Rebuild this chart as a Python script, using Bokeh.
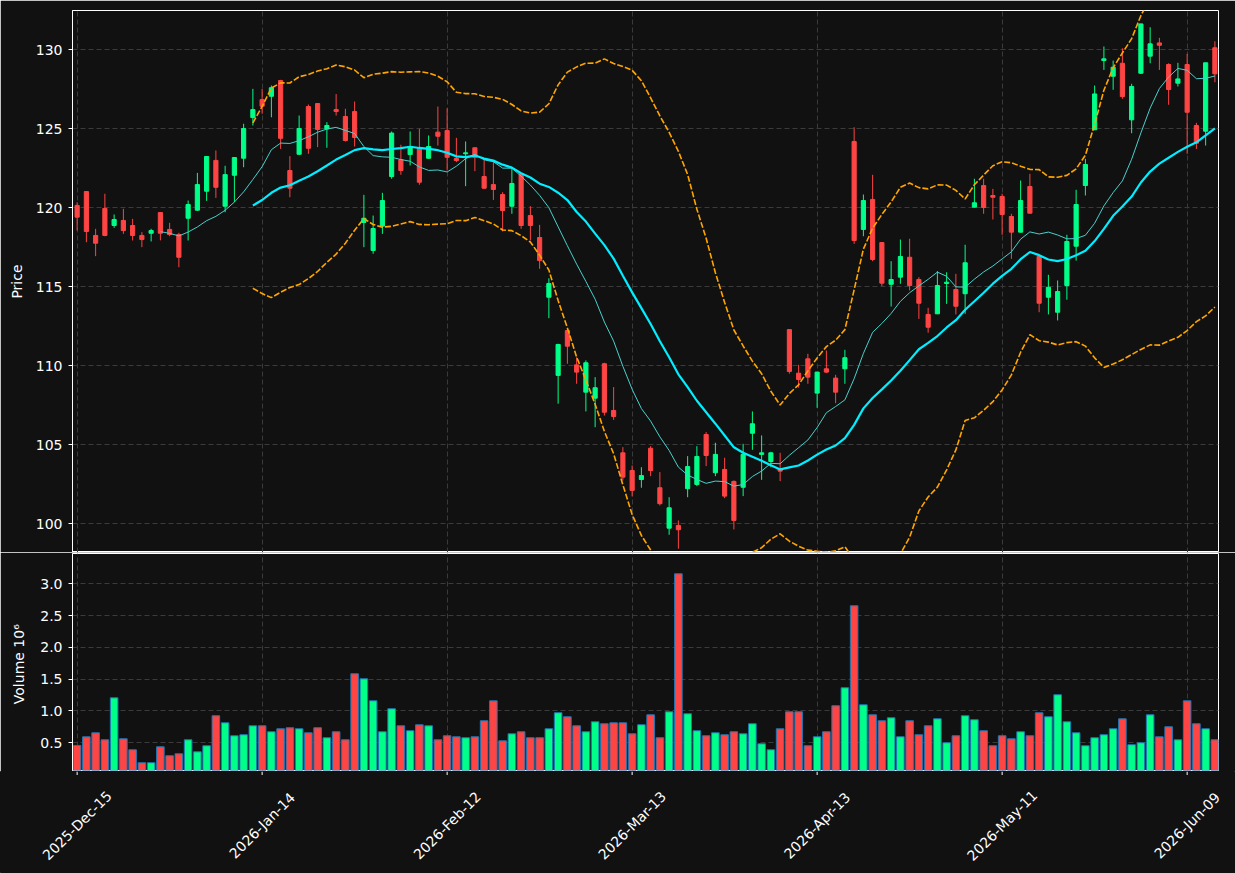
import pandas as pd
from math import pi
from bokeh.plotting import figure
from bokeh.layouts import column
from bokeh.models import (ColumnDataSource, FixedTicker, NumeralTickFormatter, Range1d)
from bokeh.core.properties import value
from bokeh.embed import file_html
from bokeh.resources import INLINE

# ---------------- data ----------------
tick_pos = [0, 20, 40, 60, 80, 100, 120]
tick_labels = ["2025-Dec-15", "2026-Jan-14", "2026-Feb-12", "2026-Mar-13",
               "2026-Apr-13", "2026-May-11", "2026-Jun-09"]
price_ticks = [100, 105, 110, 115, 120, 125, 130]
volume_ticks = [0.5, 1.0, 1.5, 2.0, 2.5, 3.0]

opens = [120.15, 121.03, 118.25, 119.96, 118.88, 119.20, 118.88, 118.25, 118.39, 119.70,
         118.63, 118.31, 119.34, 119.85, 121.05, 123.00, 120.10, 122.06, 123.14, 125.71,
         126.85, 127.06, 128.06, 122.36, 123.39, 126.41, 126.60, 125.00, 126.22, 125.78,
         126.09, 119.07, 117.30, 118.84, 121.98, 123.04, 123.37, 123.77, 123.14, 124.79,
         124.89, 123.12, 123.42, 123.80, 121.98, 121.47, 120.84, 120.10, 122.15, 119.51,
         118.12, 114.34, 109.39, 112.23, 110.06, 108.33, 107.95, 110.13, 107.17, 104.49,
         103.37, 102.80, 104.78, 102.28, 99.72, 99.89, 102.22, 102.49, 105.65, 103.23,
         103.44, 102.68, 102.31, 105.73, 104.39, 103.94, 103.48, 112.29, 109.53, 110.44,
         108.27, 109.81, 109.22, 109.81, 124.20, 118.63, 120.53, 117.80, 115.16, 115.61,
         116.87, 115.46, 113.25, 113.29, 115.21, 114.83, 114.56, 120.04, 121.41, 120.78,
         120.72, 119.45, 118.46, 121.35, 116.92, 114.34, 113.39, 115.08, 117.57, 121.41,
         124.94, 129.32, 128.33, 129.15, 125.57, 128.52, 129.60, 130.44, 129.07, 127.89,
         129.07, 125.21, 124.85, 130.13]
highs = [120.35, 121.05, 118.67, 120.89, 119.58, 119.94, 119.30, 118.46, 118.67, 119.72,
         119.05, 118.42, 120.46, 122.21, 123.27, 123.63, 122.66, 123.20, 125.32, 127.53,
         127.53, 127.74, 128.10, 123.27, 125.84, 126.54, 126.62, 125.42, 127.20, 126.27,
         126.73, 120.82, 119.51, 120.95, 124.83, 123.99, 124.83, 125.00, 124.58, 126.41,
         126.30, 124.43, 124.20, 123.82, 123.04, 122.99, 120.99, 122.57, 122.17, 120.10,
         118.92, 115.54, 111.39, 112.34, 110.54, 110.34, 109.28, 110.19, 108.65, 104.85,
         103.69, 103.58, 104.91, 103.27, 101.68, 100.21, 104.28, 104.91, 105.80, 105.13,
         104.18, 102.74, 105.06, 107.11, 105.59, 104.55, 104.49, 112.31, 110.06, 110.76,
         109.62, 110.97, 109.43, 111.01, 125.10, 120.84, 122.09, 117.82, 116.62, 117.99,
         118.04, 115.61, 113.67, 115.99, 115.92, 115.82, 117.66, 121.84, 121.84, 121.20,
         120.89, 119.62, 121.73, 122.15, 116.94, 115.76, 115.40, 118.29, 121.14, 123.10,
         127.74, 130.21, 129.32, 130.10, 127.85, 131.66, 131.43, 130.76, 129.15, 129.18,
         129.75, 125.38, 129.18, 130.54]
lows = [118.56, 117.82, 116.94, 118.20, 118.73, 118.35, 117.93, 117.51, 117.87, 117.94,
        118.20, 116.24, 117.93, 119.80, 120.44, 120.63, 119.72, 120.35, 122.57, 125.21,
        125.95, 125.73, 123.73, 120.67, 123.35, 123.42, 123.84, 123.80, 125.84, 124.20,
        123.88, 117.51, 117.09, 118.35, 121.84, 122.09, 122.68, 121.46, 123.10, 123.94,
        122.36, 122.89, 121.37, 122.32, 121.20, 120.50, 118.50, 119.62, 118.67, 117.93,
        116.14, 113.01, 107.60, 110.13, 108.86, 107.11, 106.11, 106.85, 106.58, 102.74,
        101.73, 102.28, 103.01, 101.16, 99.30, 98.42, 101.68, 102.38, 103.65, 103.01,
        101.62, 99.64, 101.75, 104.68, 102.78, 103.58, 102.70, 109.50, 108.61, 108.86,
        107.34, 109.55, 107.63, 108.86, 117.72, 118.20, 116.62, 115.04, 113.75, 115.19,
        114.77, 112.97, 112.09, 113.27, 113.92, 113.25, 113.29, 120.02, 119.62, 119.26,
        118.29, 116.77, 118.44, 119.64, 113.39, 113.25, 112.87, 114.18, 116.66, 120.78,
        124.92, 128.73, 127.47, 126.90, 124.72, 128.48, 129.15, 128.73, 126.52, 127.68,
        123.42, 123.73, 123.94, 127.95]
closes = [119.41, 118.50, 117.76, 118.25, 119.26, 118.56, 118.25, 117.99, 118.56, 118.39,
          118.31, 116.87, 120.21, 121.47, 123.25, 121.30, 122.10, 123.18, 125.02, 126.22,
          126.43, 127.60, 124.40, 121.24, 125.02, 123.77, 124.96, 125.21, 126.10, 124.26,
          124.45, 119.34, 118.69, 120.46, 124.73, 122.36, 123.88, 121.62, 123.88, 124.53,
          123.20, 122.99, 123.48, 123.20, 121.24, 121.16, 119.83, 121.54, 118.88, 118.88,
          116.66, 115.21, 111.35, 111.24, 109.60, 110.19, 108.61, 107.06, 106.79, 102.95,
          102.11, 103.05, 103.37, 101.27, 101.01, 99.62, 103.62, 104.26, 104.32, 104.39,
          101.75, 100.21, 104.39, 106.33, 104.49, 104.49, 103.33, 109.64, 109.13, 109.28,
          109.60, 109.60, 108.33, 110.51, 117.93, 120.46, 116.73, 115.23, 115.46, 116.92,
          115.08, 113.96, 112.44, 115.08, 115.29, 113.77, 116.52, 120.32, 120.02, 120.67,
          119.58, 118.46, 120.46, 119.66, 113.96, 114.97, 114.70, 117.87, 120.21, 122.74,
          127.21, 129.43, 128.90, 127.04, 127.68, 131.64, 130.38, 130.29, 127.49, 128.16,
          126.05, 124.09, 129.18, 128.48]
volume_m = [0.458, 0.594, 0.657, 0.547, 1.207, 0.563, 0.390, 0.186, 0.186, 0.437,
            0.296, 0.327, 0.547, 0.358, 0.453, 0.925, 0.814, 0.610, 0.626, 0.767,
            0.767, 0.673, 0.720, 0.736, 0.720, 0.657, 0.736, 0.579, 0.673, 0.547,
            1.585, 1.506, 1.160, 0.673, 1.035, 0.767, 0.689, 0.783, 0.767, 0.547,
            0.610, 0.594, 0.579, 0.594, 0.846, 1.160, 0.531, 0.641, 0.673, 0.579,
            0.579, 0.720, 0.972, 0.909, 0.767, 0.673, 0.830, 0.799, 0.814, 0.814,
            0.641, 0.783, 0.940, 0.579, 0.987, 3.157, 0.956, 0.689, 0.610, 0.657,
            0.626, 0.673, 0.641, 0.799, 0.484, 0.390, 0.720, 0.987, 0.987, 0.453,
            0.594, 0.673, 1.082, 1.365, 2.654, 1.097, 0.940, 0.846, 0.893, 0.594,
            0.846, 0.626, 0.767, 0.877, 0.500, 0.610, 0.925, 0.862, 0.689, 0.453,
            0.610, 0.563, 0.673, 0.610, 0.972, 0.909, 1.255, 0.830, 0.657, 0.453,
            0.579, 0.626, 0.720, 0.877, 0.469, 0.500, 0.940, 0.594, 0.752, 0.547,
            1.160, 0.799, 0.720, 0.547]

# ---------------- derived indicators ----------------
n = len(closes)
idx = list(range(n))
cs = pd.Series(closes)
ma10 = cs.rolling(10).mean()
ma20 = cs.rolling(20).mean()
sd20 = cs.rolling(20).std()
bb_up = ma20 + 2 * sd20
bb_lo = ma20 - 2 * sd20

# ---------------- style ----------------
BG = "#111111"
UP = "#00ff88"
DOWN = "#ff4444"
GRID = "#3a3a3a"
FONT = "DejaVu Sans"
FS = "14px"
W = 1235
LEFT, RIGHT = 72, 17

colors = [UP if c >= o else DOWN for o, c in zip(opens, closes)]
src = ColumnDataSource(dict(
    x=idx, o=opens, h=highs, l=lows, c=closes,
    top=[max(o, c) for o, c in zip(opens, closes)],
    bot=[min(o, c) for o, c in zip(opens, closes)],
    color=colors, vol=volume_m))
lsrc = ColumnDataSource(dict(x=idx, ma10=ma10, ma20=ma20, up=bb_up, lo=bb_lo))

X0, X1 = -0.50, 123.39
x_range = Range1d(X0, X1)
ppu = (W - LEFT - RIGHT) / (X1 - X0)


def style(p):
    p.background_fill_color = BG
    p.border_fill_color = BG
    p.outline_line_color = "white"
    p.outline_line_width = 1
    for ax in (p.xaxis, p.yaxis):
        ax.axis_line_color = "white"
        ax.major_tick_line_color = "white"
        ax.minor_tick_line_color = None
        ax.major_tick_out = 4
        ax.major_tick_in = 0
        ax.major_label_text_color = "white"
        ax.major_label_text_font = FONT
        ax.major_label_text_font_size = FS
        ax.major_label_standoff = 6
        ax.axis_label_text_color = "white"
        ax.axis_label_text_font = FONT
        ax.axis_label_text_font_size = FS
        ax.axis_label_text_font_style = "normal"
    for g in (p.xgrid, p.ygrid):
        g.grid_line_color = GRID
        g.grid_line_dash = "5 3"
        g.grid_line_width = 1


# ---------------- price panel ----------------
p1 = figure(width=W, height=552, x_range=x_range, y_range=Range1d(98.18, 132.49),
            output_backend="svg", toolbar_location=None,
            min_border_left=LEFT, min_border_right=RIGHT, min_border_top=10, min_border_bottom=0)
style(p1)
p1.xaxis.visible = False
p1.xgrid.ticker = FixedTicker(ticks=tick_pos)
p1.yaxis.ticker = FixedTicker(ticks=price_ticks)
p1.ygrid.ticker = FixedTicker(ticks=price_ticks)
p1.yaxis.axis_label = "Price"
p1.yaxis.axis_label_standoff = 8

p1.segment(x0="x", y0="l", x1="x", y1="h", color="color", line_width=1, source=src)
p1.vbar(x="x", width=0.45, top="top", bottom="bot", fill_color="color",
        line_color="color", line_width=1, source=src)
p1.line("x", "ma10", source=lsrc, line_color="#48d1cc", line_width=1)
p1.line("x", "ma20", source=lsrc, line_color="#00eeff", line_width=2.2)
p1.line("x", "up", source=lsrc, line_color="#ffa500", line_width=1.6, line_dash="6 2")
p1.line("x", "lo", source=lsrc, line_color="#ffa500", line_width=1.6, line_dash="6 2")

# ---------------- volume panel ----------------
p2 = figure(width=W, height=219, x_range=x_range, y_range=Range1d(0.064, 3.476),
            output_backend="svg", toolbar_location=None,
            min_border_left=LEFT, min_border_right=RIGHT, min_border_top=1, min_border_bottom=1)
style(p2)
p2.xaxis.visible = False
p2.xgrid.ticker = FixedTicker(ticks=tick_pos)
p2.yaxis.ticker = FixedTicker(ticks=volume_ticks)
p2.ygrid.ticker = FixedTicker(ticks=volume_ticks)
p2.yaxis.formatter = NumeralTickFormatter(format="0.0")
p2.yaxis.axis_label = "Volume  10\u2076"
p2.yaxis.axis_label_standoff = 10

p2.vbar(x="x", width=0.82, top="vol", bottom=0, fill_color="color",
        line_color="#1f77b4", line_width=1, source=src)

# ---------------- date axis strip (ticks + rotated labels) ----------------
p3 = figure(width=W, height=102,
            x_range=Range1d(X0 - LEFT / ppu, X1 + RIGHT / ppu), y_range=Range1d(102, 0),
            output_backend="svg", toolbar_location=None,
            x_axis_location=None, y_axis_location=None,
            min_border_left=0, min_border_right=0, min_border_top=0, min_border_bottom=0)
p3.frame_align = False
p3.background_fill_color = BG
p3.border_fill_color = BG
p3.outline_line_color = BG
p3.xgrid.visible = False
p3.ygrid.visible = False
tsrc = ColumnDataSource(dict(x=tick_pos, lab=tick_labels))
p3.segment(x0="x", y0=0, x1="x", y1=3.5, source=tsrc, line_color="white", line_width=1)
p3.text(x="x", y=54, text="lab", source=tsrc, angle=pi / 4,
        text_align="center", text_baseline="middle",
        text_font=value(FONT), text_font_size=value(FS), text_color="white")

layout = column(p1, p2, p3, spacing=0)
open("out.html", "w").write(file_html(layout, INLINE))
